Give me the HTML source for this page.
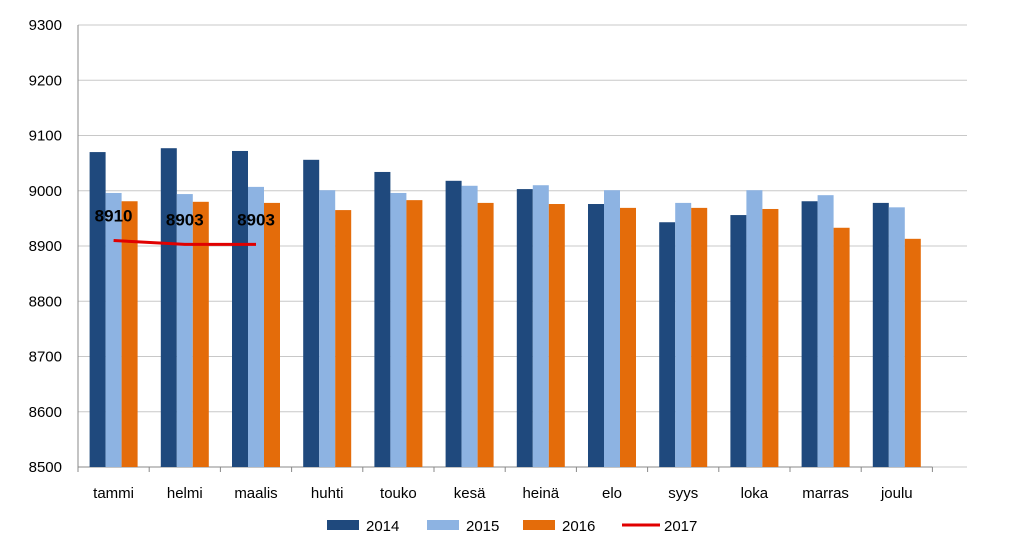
<!DOCTYPE html>
<html><head><meta charset="utf-8"><style>
body{margin:0;background:#fff;font-family:"Liberation Sans",sans-serif;}
</style></head><body>
<svg id="chart" width="1024" height="555" xmlns="http://www.w3.org/2000/svg"></svg>
<script>
const categories=["tammi","helmi","maalis","huhti","touko","kesä","heinä","elo","syys","loka","marras","joulu"];
const s2014=[9070,9077,9072,9056,9034,9018,9003,8976,8943,8956,8981,8978];
const s2015=[8996,8994,9007,9001,8996,9009,9010,9001,8978,9001,8992,8970];
const s2016=[8981,8980,8978,8965,8983,8978,8976,8969,8969,8967,8933,8913];
const s2017=[8910,8903,8903];
const yTicks=[8500,8600,8700,8800,8900,9000,9100,9200,9300];
const seriesNames=["2014","2015","2016","2017"];
const colors=["#1f497d","#8db3e2","#e46c0a","#e00000"];
const NS="http://www.w3.org/2000/svg";
const svg=document.getElementById('chart');
const x0=78,step=71.2,yTop=25,yBot=467,vMin=8500,vMax=9300,bw=16;
const y=v=>yBot-(v-vMin)/(vMax-vMin)*(yBot-yTop);
const xc=i=>x0+step*(i+0.5);
function el(t,a,txt){const e=document.createElementNS(NS,t);for(const k in a)e.setAttribute(k,a[k]);if(txt!=null)e.textContent=txt;svg.appendChild(e);return e;}
yTicks.forEach(v=>{
 const g=el('line',{x1:x0,x2:967,y1:y(v),y2:y(v),stroke:'#c8c8c8','stroke-width':1});
 
 
 const t=el('text',{x:62,y:y(v)+5,'text-anchor':'end','font-size':15,fill:'#000'},v);
 
 
});
const ax=el('line',{x1:x0,x2:x0,y1:yTop,y2:yBot,stroke:'#888'});


const bx=el('line',{x1:x0,x2:x0+step*12,y1:yBot,y2:yBot,stroke:'#888'});


for(let i=0;i<=12;i++){const tk=el('line',{x1:x0+step*i,x2:x0+step*i,y1:yBot,y2:yBot+5,stroke:'#888'});
 
 }
[s2014,s2015,s2016].forEach((s,si)=>{
 s.forEach((v,i)=>{
  const r=el('rect',{x:xc(i)-24+si*bw,y:y(v),width:bw,height:yBot-y(v),fill:colors[si]});
  
  
 });
});
categories.forEach((c,i)=>{
 const t=el('text',{x:xc(i),y:498,'text-anchor':'middle','font-size':15},c);
 
 
});
const pl=el('polyline',{points:s2017.map((v,i)=>xc(i)+','+y(v)).join(' '),fill:'none',stroke:colors[3],'stroke-width':3});


s2017.forEach((v,i)=>{
 const t=el('text',{x:xc(i),y:y(v)-19,'text-anchor':'middle','font-size':17,'font-weight':'bold',fill:'#000'},v);
 
 
});
const lg=[[327,366],[427,466],[523,562],[622,664]];
lg.forEach((p,i)=>{
 let m;
 if(i<3)m=el('rect',{x:p[0],y:520,width:32,height:10,fill:colors[i]});
 else m=el('line',{x1:p[0],x2:p[0]+38,y1:525,y2:525,stroke:colors[3],'stroke-width':3});
 
 
 const t=el('text',{x:p[1],y:531,'font-size':15},seriesNames[i]);
 
 
});
</script>
</body></html>
